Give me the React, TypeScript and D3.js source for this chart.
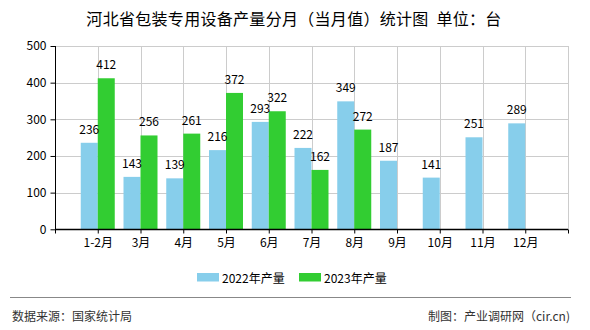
import React, { useEffect, useRef } from "react";
import * as d3 from "d3";

const categories = ["1-2月", "3月", "4月", "5月", "6月", "7月", "8月", "9月", "10月", "11月", "12月"];
const values2022 = [236, 143, 139, 216, 293, 222, 349, 187, 141, 251, 289];
const values2023: (number | null)[] = [412, 256, 261, 372, 322, 162, 272, null, null, null, null];
const seriesNames = ["2022年产量", "2023年产量"];
const yTicks = [0, 100, 200, 300, 400, 500];
const title = "河北省包装专用设备产量分月（当月值）统计图\u00a0\u00a0单位：台";
const sourceText = "数据来源：国家统计局";
const makerText = "制图：产业调研网（cir.cn)";

const W = 590;
const H = 330;
const FONT = "'Noto Sans CJK SC', 'Liberation Sans', sans-serif";
const BLUE = "#87CEEB";
const GREEN = "#32CD32";

export default function App() {
  const ref = useRef<SVGSVGElement | null>(null);

  useEffect(() => {
    const svg = d3.select(ref.current);
    svg.selectAll("*").remove();

    const left = 55, right = 568, top = 46, bottom = 229.3;
    const x = d3.scaleLinear().domain([-1, categories.length]).range([left, right]);
    const y = d3.scaleLinear().domain([0, 500]).range([bottom, top]);
    const bw = 17;

    // title
    svg.append("text")
      .attr("x", 294).attr("y", 25)
      .attr("text-anchor", "middle")
      .attr("font-size", 16)
      .attr("letter-spacing", 0.3)
      .attr("fill", "#000")
      .attr("font-family", FONT)
      .text(title);

    const g = svg.append("g");

    // horizontal grid
    g.selectAll("line.hg").data(yTicks.filter(t => t > 0)).enter().append("line")
      .attr("x1", left).attr("x2", right)
      .attr("y1", d => Math.round(y(d)) + 0.5).attr("y2", d => Math.round(y(d)) + 0.5)
      .attr("stroke", "#cccccc").attr("stroke-width", 1);

    // vertical grid
    const vIdx = d3.range(0, categories.length + 1);
    g.selectAll("line.vg").data(vIdx).enter().append("line")
      .attr("x1", d => Math.round(x(d)) + 0.5).attr("x2", d => Math.round(x(d)) + 0.5)
      .attr("y1", top).attr("y2", bottom)
      .attr("stroke", "#cccccc").attr("stroke-width", 1);

    // bars 2022
    g.selectAll("rect.b22").data(values2022).enter().append("rect")
      .attr("x", (d, i) => x(i) - bw)
      .attr("y", d => y(d))
      .attr("width", bw)
      .attr("height", d => bottom - y(d))
      .attr("fill", BLUE);

    // bars 2023
    const v23 = values2023.map((v, i) => ({ v, i })).filter(d => d.v != null) as { v: number; i: number }[];
    g.selectAll("rect.b23").data(v23).enter().append("rect")
      .attr("x", d => x(d.i))
      .attr("y", d => y(d.v))
      .attr("width", bw)
      .attr("height", d => bottom - y(d.v))
      .attr("fill", GREEN);

    // labels
    g.selectAll("text.l22").data(values2022).enter().append("text")
      .attr("x", (d, i) => x(i) - bw / 2)
      .attr("y", d => y(d) - 9)
      .attr("text-anchor", "middle")
      .attr("font-size", 12)
      .attr("font-family", FONT)
      .attr("fill", "#000")
      .text(d => String(d));
    g.selectAll("text.l23").data(v23).enter().append("text")
      .attr("x", d => x(d.i) + bw / 2)
      .attr("y", d => y(d.v) - 9)
      .attr("text-anchor", "middle")
      .attr("font-size", 12)
      .attr("font-family", FONT)
      .attr("fill", "#000")
      .text(d => String(d.v));

    // y axis
    const yAxis = d3.axisLeft(y).tickValues(yTicks).tickSize(5).tickPadding(4).tickFormat(d3.format("d"));
    const ya = svg.append("g").attr("transform", `translate(${left + 0.5},0)`).call(yAxis as any);
    ya.selectAll("text").attr("font-size", 12).attr("font-family", FONT).attr("fill", "#000");
    ya.selectAll("line").attr("stroke", "#000");
    ya.select(".domain").attr("d", `M0,${top}V${bottom}`).attr("stroke", "#000");

    // x axis
    const xAxis = d3.axisBottom(x).tickValues(d3.range(-1, categories.length + 1)).tickSize(4).tickPadding(5)
      .tickFormat((d: any) => (d >= 0 && d < categories.length ? categories[d] : ""));
    const xa = svg.append("g").attr("transform", `translate(0,${Math.round(bottom) + 0.5})`).call(xAxis as any);
    xa.selectAll("text").attr("font-size", 12).attr("font-family", FONT).attr("fill", "#000");
    xa.selectAll("line").attr("stroke", "#000");
    xa.select(".domain").attr("d", `M${left},0H${right}`).attr("stroke", "#000").attr("stroke-width", 1.5);

    // legend
    const colors = [BLUE, GREEN];
    const lx = [197, 299];
    seriesNames.forEach((name, i) => {
      svg.append("rect").attr("x", lx[i]).attr("y", 273).attr("width", 22).attr("height", 8.5).attr("fill", colors[i]);
      svg.append("text").attr("x", lx[i] + 25).attr("y", 282.5)
        .attr("font-size", 12).attr("font-family", FONT).attr("fill", "#000").text(name);
    });

    // footer
    svg.append("line").attr("x1", 10).attr("x2", 571).attr("y1", 297.5).attr("y2", 297.5)
      .attr("stroke", "#888").attr("stroke-width", 1.2);
    svg.append("text").attr("x", 12).attr("y", 321).attr("font-size", 12).attr("font-family", FONT)
      .attr("fill", "#333").text(sourceText);
    svg.append("text").attr("x", 570).attr("y", 321).attr("text-anchor", "end").attr("font-size", 12)
      .attr("font-family", FONT).attr("fill", "#333").text(makerText);
  }, []);

  return (
    <svg ref={ref} width={W} height={H} style={{ position: "absolute", left: 0, top: 0, background: "#fff" }} />
  );
}
